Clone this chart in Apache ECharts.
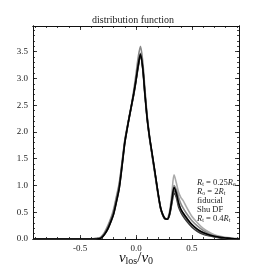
<!DOCTYPE html>
<html>
<head>
<meta charset="utf-8">
<script src="https://cdn.jsdelivr.net/npm/echarts@6/dist/echarts.min.js"></script>
<style>html,body{margin:0;padding:0;background:#fff}#c{width:266px;height:266px}</style>
</head>
<body>
<div id="c"></div>
<script>
// ---- data ----
const titleText = 'distribution function';
const xTicks = [-0.5, 0.0, 0.5];
const yTicks = [0.0, 0.5, 1.0, 1.5, 2.0, 2.5, 3.0, 3.5];
const xs = [-0.92,-0.4,-0.35,-0.32,-0.3,-0.28,-0.25,-0.22,-0.2,-0.18,-0.15,-0.12,-0.1,-0.08,-0.06,-0.04,-0.02,0.0,0.02,0.04,0.06,0.08,0.1,0.12,0.14,0.16,0.18,0.2,0.22,0.24,0.26,0.28,0.3,0.32,0.34,0.36,0.38,0.4,0.42,0.45,0.5,0.55,0.6,0.65,0.7,0.75,0.8,0.85,0.92];
const seriesNames = ['R_t = 0.25R_e', 'R_o = 2R_t', 'fiducial', 'Shu DF', 'R_t = 0.4R_t'];
const rt025 = [0,0,0.01,0.03,0.07,0.13,0.26,0.42,0.56,0.75,1.05,1.52,1.85,2.08,2.28,2.48,2.7,2.95,3.22,3.42,3.2,2.72,2.26,1.9,1.6,1.32,1.05,0.78,0.56,0.43,0.37,0.38,0.52,0.85,1.2,1.05,0.88,0.78,0.72,0.6,0.42,0.3,0.2,0.13,0.08,0.05,0.03,0.02,0.01];
const ro2 = [0,0,0.01,0.02,0.06,0.12,0.24,0.4,0.53,0.72,1.02,1.5,1.84,2.07,2.3,2.52,2.78,3.08,3.4,3.6,3.32,2.8,2.3,1.94,1.63,1.35,1.07,0.8,0.57,0.44,0.37,0.37,0.48,0.75,1.0,0.92,0.78,0.66,0.58,0.48,0.34,0.24,0.16,0.1,0.06,0.04,0.02,0.01,0];
const fiducial = [0,0,0,0.01,0.04,0.09,0.2,0.35,0.47,0.65,0.95,1.45,1.8,2.05,2.28,2.5,2.72,2.97,3.25,3.45,3.2,2.7,2.25,1.92,1.65,1.38,1.1,0.82,0.58,0.45,0.38,0.37,0.47,0.72,0.96,0.86,0.68,0.56,0.49,0.4,0.27,0.18,0.12,0.08,0.05,0.03,0.02,0.01,0];
const shu = [0,0,0,0.01,0.04,0.09,0.19,0.34,0.46,0.64,0.94,1.44,1.79,2.04,2.27,2.49,2.7,2.95,3.22,3.42,3.18,2.68,2.23,1.9,1.63,1.36,1.09,0.82,0.58,0.45,0.38,0.37,0.45,0.66,0.85,0.78,0.6,0.5,0.43,0.34,0.22,0.14,0.09,0.06,0.04,0.02,0.01,0,0];
const rt04 = [0,0,0.01,0.02,0.05,0.1,0.22,0.38,0.5,0.69,0.99,1.48,1.82,2.06,2.29,2.5,2.73,2.99,3.27,3.47,3.22,2.72,2.27,1.92,1.64,1.37,1.09,0.81,0.58,0.45,0.38,0.37,0.46,0.68,0.9,0.82,0.66,0.55,0.47,0.38,0.26,0.17,0.11,0.07,0.045,0.03,0.015,0.01,0];
const seriesValues = [rt025, ro2, fiducial, shu, rt04];

// ---- styles ----
const colors = ['#aaaaaa', '#888888', '#000000', '#3a3a3a', '#666666'];
const zs = [2, 2, 5, 3, 3];
const FONT = '"Liberation Serif", "DejaVu Serif", serif';
const XMIN = -0.92, XMAX = 0.92, YMIN = 0, YMAX = 3.98;

function range(a, b, s) { const r = []; for (let v = a; v <= b + 1e-9; v += s) r.push(Math.round(v * 100) / 100); return r; }
const xMinor = range(-0.9, 0.9, 0.1);
const yMinor = range(0, 3.9, 0.1);

function legendFmt(name) {
  const m = name.match(/^R_(\w) = ([\d.]+)R_(\w)$/);
  if (m) return '{i|R}{s|' + m[1] + '}{n| = ' + m[2] + '}{i|R}{s|' + m[3] + '}';
  return '{n|' + name + '}';
}

function xAxisDef(pos, vals, len, labels) {
  return {
    type: 'value', position: pos, min: XMIN, max: XMAX,
    axisLine: { show: true, onZero: false, lineStyle: { color: '#111', width: 1 } },
    axisTick: { show: true, inside: true, length: len, customValues: vals, lineStyle: { color: '#111', width: 0.8 } },
    axisLabel: labels ? { show: true, customValues: xTicks, formatter: v => v.toFixed(1), fontFamily: FONT, fontSize: 9, color: '#222', margin: 5 } : { show: false },
    splitLine: { show: false }
  };
}
function yAxisDef(pos, vals, len, labels) {
  return {
    type: 'value', position: pos, min: YMIN, max: YMAX,
    axisLine: { show: true, onZero: false, lineStyle: { color: '#111', width: 1 } },
    axisTick: { show: true, inside: true, length: len, customValues: vals, lineStyle: { color: '#111', width: 0.8 } },
    axisLabel: labels ? { show: true, customValues: yTicks, formatter: v => v.toFixed(1), fontFamily: FONT, fontSize: 9, color: '#222', margin: 5 } : { show: false },
    splitLine: { show: false }
  };
}

const xAxes = [xAxisDef('bottom', xTicks, 4, true), xAxisDef('bottom', xMinor, 2, false), xAxisDef('top', xTicks, 4, false), xAxisDef('top', xMinor, 2, false)];
xAxes[0].name = '{v|v}{s|los}{n|/}{v|v}{s|0}';
xAxes[0].nameLocation = 'middle';
xAxes[0].nameGap = 11;
xAxes[0].nameMoveOverlap = false;
xAxes[0].nameTextStyle = { rich: {
  v: { fontFamily: FONT, fontStyle: 'italic', fontSize: 15, color: '#111' },
  n: { fontFamily: FONT, fontSize: 15, color: '#111' },
  s: { fontFamily: FONT, fontSize: 10, color: '#111', verticalAlign: 'bottom', padding: [6, 0, 0, 0] }
} };
const yAxes = [yAxisDef('left', yTicks, 4, true), yAxisDef('left', yMinor, 2, false), yAxisDef('right', yTicks, 4, false), yAxisDef('right', yMinor, 2, false)];

const series = seriesNames.map((n, k) => ({
  name: n, type: 'line', xAxisIndex: 0, yAxisIndex: 0,
  data: xs.map((x, i) => [x, seriesValues[k][i]]),
  showSymbol: false, smooth: 0.3, z: zs[k],
  lineStyle: { color: colors[k], width: 1.6 }, itemStyle: { color: colors[k] },
  silent: true, animation: false
}));

const chart = echarts.init(document.getElementById('c'), null, { renderer: 'canvas' });
chart.setOption({
  animation: false,
  backgroundColor: '#fff',
  title: { text: titleText, left: 'center', top: 10, textStyle: { fontFamily: FONT, fontSize: 10, fontWeight: 'normal', color: '#222' } },
  grid: { left: 33, right: 27, top: 26, bottom: 27, containLabel: false, outerBoundsMode: 'none' },
  legend: {
    data: seriesNames, orient: 'vertical', left: 187, top: 173, itemWidth: 0, itemHeight: 0, itemGap: 0,
    selectedMode: false, icon: 'rect',
    formatter: legendFmt,
    textStyle: { fontFamily: FONT, fontSize: 8.5, color: '#222', lineHeight: 9, rich: {
      i: { fontFamily: FONT, fontStyle: 'italic', fontSize: 8.5, color: '#222', lineHeight: 9 },
      n: { fontFamily: FONT, fontSize: 8.5, color: '#222', lineHeight: 9 },
      s: { fontFamily: FONT, fontSize: 6, color: '#222', lineHeight: 9, verticalAlign: 'bottom' }
    } }
  },
  xAxis: xAxes,
  yAxis: yAxes,
  series: series
});
</script>
</body>
</html>
